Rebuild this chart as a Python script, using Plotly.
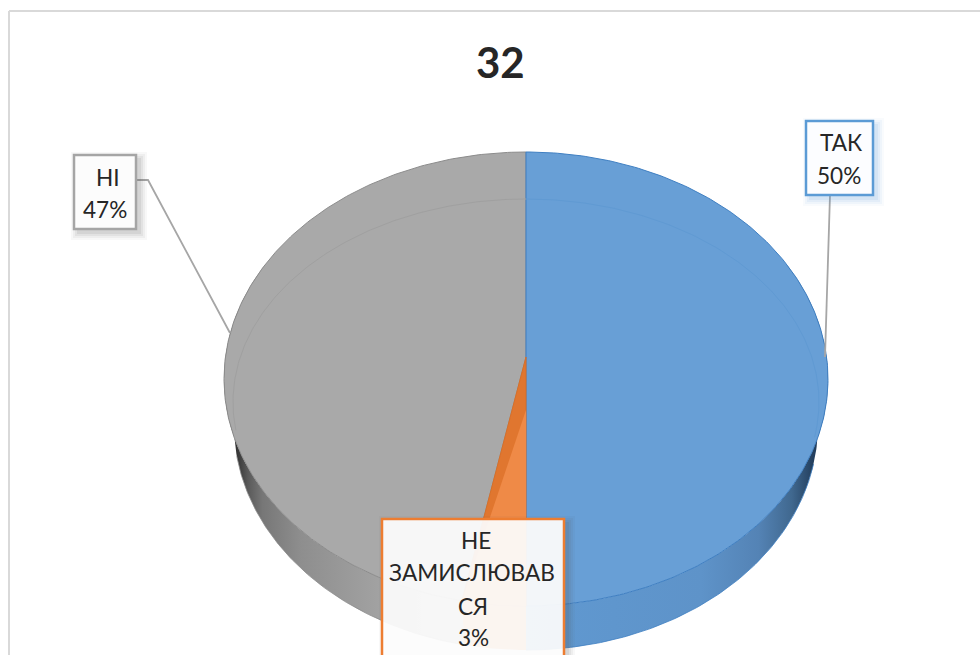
import numpy as np
import plotly.graph_objects as go

# Dados (sentido horário a partir do topo)
categorias = ['ТАК', 'НЕ ЗАМИСЛЮВАВСЯ', 'НІ']
valores = [50.0, 3.4, 46.6]
percentuais = ['50%', '3%', '47%']
linhas_rotulo = [['ТАК'], ['НЕ', 'ЗАМИСЛЮВАВ', 'СЯ'], ['НІ']]
titulo = '32'

cores_topo = ['#689fd6', '#e0762f', '#a9a9a9']
cores_borda = ['#3f7fc2', '#d86f28', '#8c8c8c']
cores_anel = ['#609ad3', '#e0762f', '#a0a0a0']
cores_caixa = ['#5b9bd5', '#ed7d31', '#a5a5a5']
escala_parede = [
    [[0, '#6099d1'], [0.58, '#5e93c9'], [0.77, '#5483b5'], [0.88, '#40688f'], [0.95, '#24405f'], [1, '#1c3657']],
    [[0, '#ee8a45'], [1, '#ee8a45']],
    [[0, '#333333'], [0.05, '#333333'], [0.1, '#5a5a5a'], [0.16, '#777777'], [0.32, '#8e8e8e'], [0.65, '#a2a2a2'], [1, '#b0b0b0']],
]

# Geometria do disco em pixels da página
CX = 526
TOPO = (302, 227, 379)    # rx, ry, cy da face superior
BASE = (292, 225, 425)    # rx, ry, cy da borda inferior
ANEL = (293, 203, 402)    # rx, ry, cy do chanfro
APICE_Y = 357
APICE_CLARO_Y = 410


def elipse(geo, graus):
    rx, ry, cy = geo
    t = np.radians(graus)
    return CX + rx * np.sin(t), cy - ry * np.cos(t)


def add_poligono(fig, x, y, cor=None, borda=None, gradiente=None):
    args = dict(x=list(x), y=list(y), mode='lines', fill='toself', hoverinfo='skip', showlegend=False,
                line=dict(width=1 if borda else 0, color=borda or 'rgba(0,0,0,0)'))
    if gradiente:
        args['fillgradient'] = dict(type='horizontal', colorscale=gradiente)
    else:
        args['fillcolor'] = cor
    fig.add_trace(go.Scatter(**args))


def add_linha(fig, x, y, cor, largura=1.0):
    fig.add_trace(go.Scatter(x=list(x), y=list(y), mode='lines', hoverinfo='skip', showlegend=False,
                             line=dict(color=cor, width=largura)))


fig = go.Figure()

acum = np.cumsum([0] + valores) / sum(valores) * 360
inicios, fins = acum[:-1], acum[1:]

# Paredes laterais
for i in range(len(valores)):
    graus = np.linspace(max(inicios[i], 60), min(fins[i], 300), 160)
    xt, yt = elipse(TOPO, graus)
    xb, yb = elipse(BASE, graus[::-1])
    add_poligono(fig, np.r_[xt, xb], np.r_[yt, yb], gradiente=escala_parede[i])

# Faces superiores
for i in [2, 0, 1]:
    graus = np.linspace(inicios[i], fins[i], 240)
    xr, yr = elipse(TOPO, graus)
    add_poligono(fig, np.r_[CX, xr, CX], np.r_[APICE_Y, yr, APICE_Y], cor=cores_topo[i], borda=cores_borda[i])

# Parte clara da fatia laranja
graus = np.linspace(inicios[1], fins[1], 40)
xr, yr = elipse(TOPO, graus)
add_poligono(fig, np.r_[CX, xr, CX], np.r_[APICE_CLARO_Y, yr, APICE_CLARO_Y], cor='#ef8a47')

# Linha do chanfro
for i, (g0, g1) in [(0, (0, 100)), (2, (262, 360))]:
    xa, ya = elipse(ANEL, np.linspace(g0, g1, 120))
    add_linha(fig, xa, ya, cores_anel[i])

# Bordas inferiores das paredes
for i, (g0, g1) in [(0, (100, 180)), (2, (192, 262))]:
    xb, yb = elipse(BASE, np.linspace(g0, g1, 120))
    add_linha(fig, xb, yb, cores_borda[i], 0.8)

# Linhas de chamada
add_linha(fig, [136, 148, 230], [180, 180, 333], '#a6a6a6', 1.8)
add_linha(fig, [830, 825], [195, 357], '#a6a6a6', 1.8)

# Caixas dos rótulos: x0, y0, x1, y1 e o centro de cada linha de texto
caixas = [(806, 121, 873, 195), (382, 519, 564, 680), (74, 155, 136, 229)]
centros_x = [[841, 839], [476, 472, 473, 473], [108, 105]]
centros_y = [[142, 175], [540, 572, 606, 637], [177, 209]]

shapes = []
annotations = []
for i, (x0, y0, x1, y1) in enumerate(caixas):
    for d, op in [(7, 0.04), (5, 0.06), (3, 0.08), (1, 0.1)]:
        shapes.append(dict(type='rect', x0=x0 + 4 - d, x1=x1 + 4 + d, y0=y0 + 4 - d, y1=y1 + 4 + d,
                           fillcolor=cores_caixa[i] if i == 0 else '#555555', opacity=op, line_width=0, layer='above'))
    shapes.append(dict(type='rect', x0=x0, x1=x1, y0=y0, y1=y1, fillcolor='rgba(255,255,255,0.92)',
                       line=dict(color=cores_caixa[i], width=2.5), layer='above'))
    textos = linhas_rotulo[i] + [percentuais[i]]
    for texto, xc, yc in zip(textos, centros_x[i], centros_y[i]):
        annotations.append(dict(x=xc, y=yc, text=texto, showarrow=False, xanchor='center', yanchor='middle',
                                font=dict(family='Lato', size=22.6, color='#262626')))

annotations.append(dict(x=500, y=62, text=f'<b>{titulo}</b>', showarrow=False, xanchor='center', yanchor='middle',
                        font=dict(family='Lato', size=42, color='#262626')))

# Moldura do gráfico
shapes.append(dict(type='line', x0=9, x1=980, y0=11, y1=11, line=dict(color='#d9d9d9', width=2), layer='below'))
shapes.append(dict(type='line', x0=9, x1=9, y0=11, y1=655, line=dict(color='#d9d9d9', width=2), layer='below'))

fig.update_layout(width=980, height=655, margin=dict(l=0, r=0, t=0, b=0), showlegend=False,
                  paper_bgcolor='white', plot_bgcolor='white', shapes=shapes, annotations=annotations,
                  xaxis=dict(range=[0, 980], visible=False, fixedrange=True),
                  yaxis=dict(range=[655, 0], visible=False, fixedrange=True))

fig.write_html('out.html', config=dict(displayModeBar=False),
               post_script="document.body.style.margin='0';document.body.style.overflow='hidden';")
